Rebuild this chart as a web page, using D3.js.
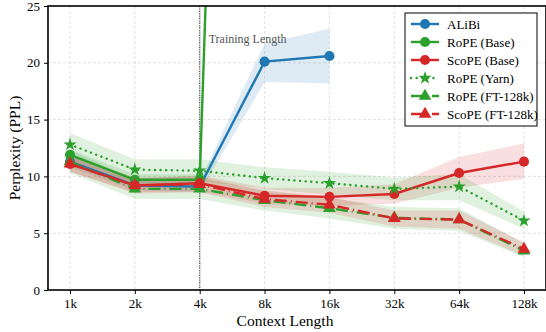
<!DOCTYPE html>
<html>
<head>
<meta charset="utf-8">
<script src="https://cdn.jsdelivr.net/npm/d3@7"></script>
<style>
	body { margin: 0; background: #fff; }
	svg text { font-family: 'Liberation Serif', serif; }
</style>
</head>
<body>
<svg id="chart" width="546" height="332"></svg>
<script>
// context lengths (in k tokens) and tick labels
const contexts = [1, 2, 4, 8, 16, 32, 64, 128]
const tickLabels = ['1k', '2k', '4k', '8k', '16k', '32k', '64k', '128k']
const yTicks = [0, 5, 10, 15, 20, 25]

// series values
const alibi = [11.3, 9.2, 9.1, 20.1, 20.6]
const alibiLo = [10.8, 8.8, 8.6, 18.3, 18.2]
const alibiHi = [11.8, 9.6, 9.6, 21.7, 23.0]

const ropeBase = [11.9, 9.7, 9.7, 180]
const ropeBaseLo = [11.4, 9.2, 9.2, 170]
const ropeBaseHi = [12.4, 10.2, 10.2, 190]

const scopeBase = [11.1, 9.2, 9.4, 8.3, 8.2, 8.45, 10.3, 11.3]
const scopeBaseLo = [10.4, 8.6, 8.7, 7.6, 7.4, 7.6, 9.0, 9.8]
const scopeBaseHi = [11.8, 9.8, 10.1, 9.0, 9.0, 9.3, 11.7, 12.9]

const ropeYarn = [12.8, 10.6, 10.5, 9.85, 9.4, 8.9, 9.1, 6.1]
const ropeYarnLo = [11.8, 9.7, 9.6, 8.9, 8.4, 7.9, 7.9, 5.4]
const ropeYarnHi = [13.8, 11.5, 11.5, 10.8, 10.4, 9.9, 10.2, 6.9]

const ropeFT = [11.3, 8.9, 8.9, 7.9, 7.2, 6.35, 6.2, 3.45]
const ropeFTLo = [10.3, 8.0, 8.0, 7.0, 6.3, 5.4, 5.2, 2.9]
const ropeFTHi = [12.3, 9.8, 9.8, 8.8, 8.1, 7.3, 7.2, 4.1]

const scopeFT = [11.1, 9.2, 9.3, 8.0, 7.5, 6.3, 6.2, 3.6]
const scopeFTLo = [10.4, 8.5, 8.6, 7.3, 6.8, 5.6, 5.4, 3.0]
const scopeFTHi = [11.8, 9.9, 10.0, 8.7, 8.2, 7.0, 7.0, 4.2]

const trainingLength = 4

const blue = '#1f77b4'
const green = '#2ca02c'
const red = '#d62728'

const series = [
	{ name: 'ALiBi', values: alibi, lo: alibiLo, hi: alibiHi, color: blue, symbol: 'circle', dash: null },
	{ name: 'RoPE (Base)', values: ropeBase, lo: ropeBaseLo, hi: ropeBaseHi, color: green, symbol: 'circle', dash: null },
	{ name: 'ScoPE (Base)', values: scopeBase, lo: scopeBaseLo, hi: scopeBaseHi, color: red, symbol: 'circle', dash: null },
	{ name: 'RoPE (Yarn)', values: ropeYarn, lo: ropeYarnLo, hi: ropeYarnHi, color: green, symbol: 'star', dash: '0.1 5.5' },
	{ name: 'RoPE (FT-128k)', values: ropeFT, lo: ropeFTLo, hi: ropeFTHi, color: green, symbol: 'triangle', dash: '12 4 1 4' },
	{ name: 'ScoPE (FT-128k)', values: scopeFT, lo: scopeFTLo, hi: scopeFTHi, color: red, symbol: 'triangle', dash: '12 4 1 4' },
]

const svg = d3.select('#chart')
const margin = { left: 48, right: 0, top: 6, bottom: 42 }
const width = 546 - margin.left - margin.right
const height = 332 - margin.top - margin.bottom

//log2 x axis with the same padding on both sides
const pad = 22
const x = d3.scaleLog().base(2).domain([1, 128]).range([pad, width - pad])
const y = d3.scaleLinear().domain([0, 25]).range([height, 0])

const g = svg.append('g').attr('transform', 'translate(' + margin.left + ',' + margin.top + ')')

g.append('clipPath').attr('id', 'clip').append('rect').attr('width', width).attr('height', height)

//Grid
const grid = g.append('g')
grid
	.selectAll(null)
	.data(yTicks.slice(1, -1))
	.enter()
	.append('line')
	.attr('x1', 0)
	.attr('x2', width)
	.attr('y1', d => y(d))
	.attr('y2', d => y(d))
grid
	.selectAll(null)
	.data(contexts)
	.enter()
	.append('line')
	.attr('x1', d => x(d))
	.attr('x2', d => x(d))
	.attr('y1', 0)
	.attr('y2', height)
grid.selectAll('line').attr('stroke', '#d9d9d9').attr('stroke-width', 0.8).attr('stroke-dasharray', '3 2')

//Training length marker
g.append('line')
	.attr('x1', x(trainingLength))
	.attr('x2', x(trainingLength))
	.attr('y1', 0)
	.attr('y2', height)
	.attr('stroke', '#444')
	.attr('stroke-width', 1.2)
	.attr('stroke-dasharray', '1.2 1.2')

g.append('text')
	.attr('x', x(trainingLength) + 9)
	.attr('y', 37)
	.attr('fill', '#555')
	.style('font-size', '12px')
	.text('Training Length')

const plot = g.append('g').attr('clip-path', 'url(#clip)')

//Bands
const area = d3
	.area()
	.x(d => x(d.c))
	.y0(d => y(d.lo))
	.y1(d => y(d.hi))

series.forEach(s => {
	const pts = s.values.map((v, i) => ({ c: contexts[i], lo: s.lo[i], hi: s.hi[i] }))
	plot.append('path').datum(pts).attr('d', area).attr('fill', s.color).attr('fill-opacity', 0.15)
})

const line = d3
	.line()
	.x(d => x(d.c))
	.y(d => y(d.v))

const symbolType = { circle: d3.symbolCircle, star: d3.symbolStar, triangle: d3.symbolTriangle }
const symbolSize = { circle: 80, star: 55, triangle: 70 }

series.forEach(s => {
	const pts = s.values.map((v, i) => ({ c: contexts[i], v: v }))
	plot.append('path')
		.datum(pts)
		.attr('d', line)
		.attr('fill', 'none')
		.attr('stroke', s.color)
		.attr('stroke-width', 2.4)
		.attr('stroke-linecap', s.dash && s.symbol == 'star' ? 'round' : 'butt')
		.attr('stroke-dasharray', s.dash)

	plot.selectAll(null)
		.data(pts)
		.enter()
		.append('path')
		.attr('transform', d => 'translate(' + x(d.c) + ',' + y(d.v) + ')')
		.attr('d', d3.symbol(symbolType[s.symbol], symbolSize[s.symbol]))
		.attr('fill', s.color)
})

//Axes
const xAxis = g
	.append('g')
	.attr('transform', 'translate(0,' + height + ')')
	.call(d3.axisBottom(x).tickValues(contexts).tickFormat((d, i) => tickLabels[i]).tickSize(4))
const yAxis = g.append('g').call(d3.axisLeft(y).tickValues(yTicks).tickSize(4))

;[xAxis, yAxis].forEach(a => {
	a.attr('font-family', null).attr('font-size', null)
	a.select('.domain').remove()
	a.selectAll('line').attr('stroke', '#000').attr('stroke-width', 1)
	a.selectAll('text').attr('fill', '#000').style('font-size', '13px')
})
xAxis.selectAll('text').attr('dy', '0.85em')
yAxis.selectAll('text').attr('dx', '-1px')

//Frame
g.append('rect')
	.attr('width', width)
	.attr('height', height)
	.attr('fill', 'none')
	.attr('stroke', '#000')
	.attr('stroke-width', 1.6)

//Axis labels
svg.append('text')
	.attr('x', 285)
	.attr('y', 326)
	.attr('text-anchor', 'middle')
	.style('font-size', '15.5px')
	.text('Context Length')

svg.append('text')
	.attr('transform', 'translate(20,' + (margin.top + height / 2) + ') rotate(-90)')
	.attr('text-anchor', 'middle')
	.style('font-size', '15.5px')
	.text('Perplexity (PPL)')

//Legend
const legend = svg.append('g').attr('transform', 'translate(405,13)')
legend
	.append('rect')
	.attr('width', 132)
	.attr('height', 113)
	.attr('fill', '#fff')
	.attr('stroke', '#000')
	.attr('stroke-width', 1)

const rows = legend
	.selectAll(null)
	.data(series)
	.enter()
	.append('g')
	.attr('transform', (d, i) => 'translate(0,' + (11 + i * 18) + ')')

rows.append('line')
	.attr('x1', 6)
	.attr('x2', 34)
	.attr('stroke', d => d.color)
	.attr('stroke-width', 2.4)
	.attr('stroke-linecap', d => (d.symbol == 'star' ? 'round' : 'butt'))
	.attr('stroke-dasharray', d => (d.symbol == 'star' ? '0.1 5.5' : d.dash ? '12 4 1 4' : null))

rows.append('path')
	.attr('transform', 'translate(20,0)')
	.attr('d', d => d3.symbol(symbolType[d.symbol], symbolSize[d.symbol])())
	.attr('fill', d => d.color)

rows.append('text')
	.attr('x', 42)
	.attr('dy', '0.35em')
	.style('font-size', '13px')
	.text(d => d.name)
</script>
</body>
</html>
